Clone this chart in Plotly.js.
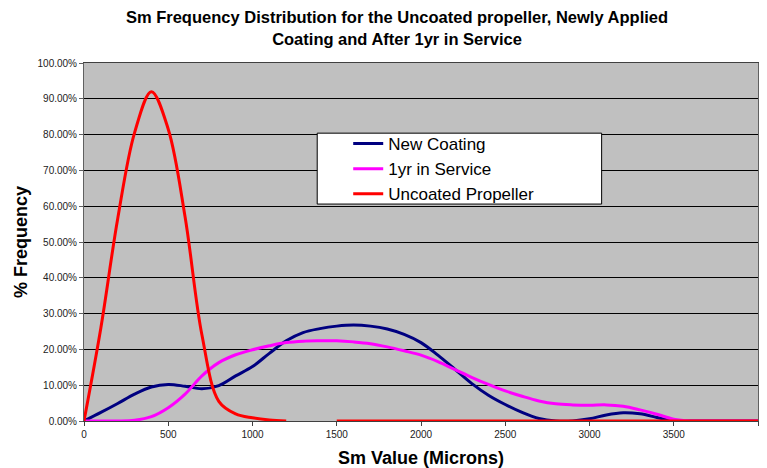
<!DOCTYPE html>
<html><head><meta charset="utf-8">
<script src="https://cdn.plot.ly/plotly-3.0.1.min.js"></script>
<style>html,body{margin:0;padding:0;background:#fff}#c{width:767px;height:468px}</style>
</head><body><div id="c"></div>
<script>
const smValues = [0,100,200,300,400,500,600,700,800,900,1000,1100,1200,1300,1400,1500,1600,1700,1800,1900,2000,
  2100,2200,2300,2400,2500,2600,2700,2800,2900,3000,3100,3200,3300,3400,3500,3600,3700,3800,3900,4000];
const newCoating = [0,2.4,4.9,7.5,9.5,10.2,9.7,9.0,9.9,12.6,15.2,18.9,22.4,24.7,25.8,26.5,26.8,26.5,25.7,24.2,21.9,
  18.4,14.5,10.5,7.2,4.6,2.4,0.7,0,0,0.6,1.7,2.3,2.0,1.0,0,0,0,0,0,0];
const oneYear = [0,0,0,0.2,1.2,3.7,7.5,12.6,16.3,18.5,19.9,21.0,21.9,22.3,22.4,22.4,22.1,21.6,20.7,19.6,18.4,
  16.6,14.4,12.2,10.2,8.4,6.9,5.6,4.8,4.5,4.4,4.5,4.1,3.1,1.9,0.5,0,0,0,0,0];
const uncoated = [0,26,56.5,80.5,92,81.5,57,24,5.5,2,0.9,0.3,0,null,null,0,0,0,0,0,0,
  0,0,0,0,0,0,0,0,0,0,0,0,0,0,0,0,0,0,0,0];
const seriesNames = ["New Coating","1yr in Service","Uncoated Propeller"];
const seriesColors = ["#000080","#FF00FF","#FF0000"];
const yTicks = [0,10,20,30,40,50,60,70,80,90,100];
const yTickText = yTicks.map(v => v.toFixed(2)+"%");
const xTicks = [0,500,1000,1500,2000,2500,3000,3500,4000];

const ys = [newCoating, oneYear, uncoated];
const traces = ys.map((y,i)=>({
  x: smValues, y: y, name: seriesNames[i], type:'scatter', mode:'lines', connectgaps:false,
  line:{color:seriesColors[i], width:3, shape:'spline', smoothing:1}
}));

const FONT = 'Liberation Sans, Arial, sans-serif';
const layout = {
  width:767, height:468,
  margin:{l:84, r:9, t:63, b:47},
  paper_bgcolor:'#fff', plot_bgcolor:'#C0C0C0',
  font:{family:FONT, color:'#000'},
  title:{text:'Sm Frequency Distribution for the Uncoated propeller, Newly Applied<br>Coating and After 1yr in Service',
    font:{size:16.5, color:'#000', weight:'bold', family:FONT}, x:0.5176, xanchor:'center', y:0.95, yanchor:'top'},
  xaxis:{range:[0,4000], tickvals:xTicks, ticktext:xTicks.map(String), tickfont:{size:10, color:'#222'},
    showgrid:false, zeroline:false, showline:true, linecolor:'#404040', linewidth:1, mirror:true,
    ticks:'outside', ticklen:4, tickcolor:'#404040',
    title:{text:'Sm Value (Microns)', font:{size:18, weight:'bold', family:FONT}, standoff:12}},
  yaxis:{range:[0,100], tickvals:yTicks, ticktext:yTickText, tickfont:{size:10, color:'#222'},
    showgrid:true, gridcolor:'#000', gridwidth:1, zeroline:false, showline:true, linecolor:'#606060', linewidth:1, mirror:true,
    ticks:'outside', ticklen:4, tickcolor:'#606060',
    title:{text:'% Frequency', font:{size:18, weight:'bold', family:FONT}, standoff:5}},
  shapes:[{type:'rect', xref:'paper', yref:'paper', x0:0.346, x1:0.768, y0:0.606, y1:0.804,
    fillcolor:'#fff', line:{color:'#000', width:1}, layer:'above'}],
  legend:{x:0.392, y:0.824, xanchor:'left', yanchor:'top', bgcolor:'rgba(0,0,0,0)', borderwidth:0,
    font:{size:17, color:'#000'}, tracegroupgap:0, itemwidth:30},
  showlegend:true
};
Plotly.newPlot('c', traces, layout, {displayModeBar:false, staticPlot:true});
</script></body></html>
